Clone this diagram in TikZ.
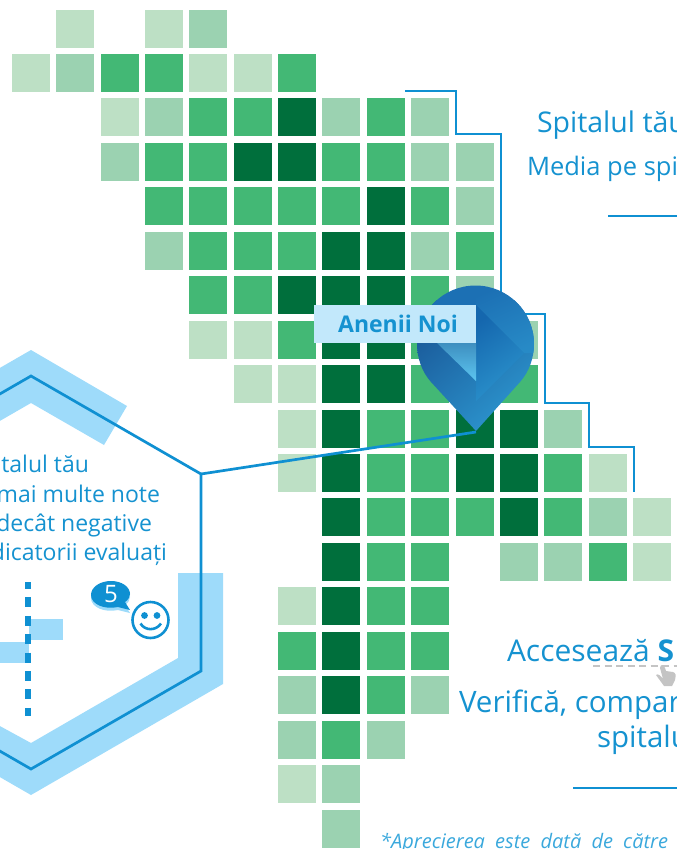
\documentclass[tikz,border=0pt]{standalone}
\usepackage{fontspec}
\setmainfont{Open Sans}
\definecolor{cL}{HTML}{BDE0C5}
\definecolor{cM}{HTML}{9BD2B1}
\definecolor{cG}{HTML}{43B875}
\definecolor{cD}{HTML}{006F3C}
\definecolor{line}{HTML}{0F90D2}
\definecolor{txt}{HTML}{1592D0}
\definecolor{band}{HTML}{9EDBFA}
\definecolor{lab}{HTML}{C2E8FB}
\definecolor{pinA}{HTML}{1A5A9A}
\definecolor{pinB}{HTML}{2C95CE}
\definecolor{pinC}{HTML}{1567AE}
\definecolor{pinD}{HTML}{3E8FC0}
\definecolor{pinE}{HTML}{5CC5F0}
\definecolor{pinF}{HTML}{1C70B4}
\definecolor{handgray}{HTML}{C4C4C4}
\definecolor{notecolor}{HTML}{3AA8DC}
\tikzset{
  blueline/.style={draw=line,line width=2.7pt,line join=miter},
  cell/.style={minimum size=38pt,inner sep=0pt,outer sep=0pt,anchor=north west},
  caption/.style={text=txt,inner sep=0pt,outer sep=0pt,anchor=base west},
  captionr/.style={text=txt,inner sep=0pt,outer sep=0pt,anchor=base east},
}
\newcommand{\cellrow}[2]{%
  \foreach \c/\k in {#2}{%
    \node[cell,fill=\k] (r#1c\c) at ({12+44.35*\c},{9.5+44.45*#1}) {};%
  }%
}
\begin{document}
\begin{tikzpicture}[x=1pt,y=-1pt]
\useasboundingbox (0,0) rectangle (677,849);
\clip (0,0) rectangle (677,849);
% map cells
\cellrow{0}{1/cL,3/cL,4/cM}
\cellrow{1}{0/cL,1/cM,2/cG,3/cG,4/cL,5/cL,6/cG}
\cellrow{2}{2/cL,3/cM,4/cG,5/cG,6/cD,7/cM,8/cG,9/cM}
\cellrow{3}{2/cM,3/cG,4/cG,5/cD,6/cD,7/cG,8/cG,9/cM,10/cM}
\cellrow{4}{3/cG,4/cG,5/cG,6/cG,7/cG,8/cD,9/cG,10/cM}
\cellrow{5}{3/cM,4/cG,5/cG,6/cG,7/cD,8/cD,9/cM,10/cG}
\cellrow{6}{4/cG,5/cG,6/cD,7/cD,8/cD,9/cG,10/cM}
\cellrow{7}{4/cL,5/cL,6/cG,7/cD,8/cD,9/cG,10/cG,11/cM}
\cellrow{8}{5/cL,6/cL,7/cD,8/cD,9/cG,10/cG,11/cG}
\cellrow{9}{6/cL,7/cD,8/cG,9/cG,10/cD,11/cD,12/cM}
\cellrow{10}{6/cL,7/cD,8/cG,9/cG,10/cD,11/cD,12/cG,13/cL}
\cellrow{11}{7/cD,8/cG,9/cG,10/cG,11/cD,12/cG,13/cM,14/cL}
\cellrow{12}{7/cD,8/cG,9/cG,11/cM,12/cM,13/cG,14/cL}
\cellrow{13}{6/cL,7/cD,8/cG,9/cG}
\cellrow{14}{6/cG,7/cD,8/cG,9/cG}
\cellrow{15}{6/cM,7/cD,8/cG,9/cM}
\cellrow{16}{6/cM,7/cG,8/cM}
\cellrow{17}{6/cL,7/cM}
\cellrow{18}{7/cM}
% border of the region
\draw[blueline] (405,91) -- (456,91) -- (456,134) -- (501,134) -- (501,314) -- (545,314) -- (545,403) -- (589,403) -- (589,447) -- (634,447) -- (634,492);
% hexagon band
\fill[band] (127,406) -- (31,350) -- (-2,369) -- (-2,422) -- (31,403) -- (104,445) -- cycle;
\fill[band] (178,573) -- (223,573) -- (223,684) -- (31,795) -- (-2,776) -- (-2,725) -- (31,743) -- (178,658) -- cycle;
\fill[band] (29,619) rectangle (63,640);
\fill[band] (-2,642) rectangle (29,663);
\draw[draw=line,line width=5.5pt,dash pattern=on 10pt off 8.4pt,dash phase=3pt] (28,582) -- (28,716);
% hexagon outline and connector
\coordinate (hexcorner) at (201,474);
\coordinate (pintip) at (476,432);
\draw[blueline] (-2,395) -- (31,376) -- (hexcorner) -- (201,671) -- (31,769) -- (-2,750);
\draw[blueline] (hexcorner) -- (pintip);
% pin
\begin{scope}
\clip (476,431) -- (431,382) .. controls (422,372) and (417,358) .. (417,344)
  .. controls (417,311.7) and (443.2,285.5) .. (475.5,285.5)
  .. controls (507.8,285.5) and (534,311.7) .. (534,344)
  .. controls (534,358) and (529,372) .. (520,382) -- cycle;
\shade[top color=pinA,bottom color=pinB,shading angle=40] (417,300) rectangle (534,431);
\shade[top color=pinF,bottom color=pinB!70!pinF,shading angle=25] (476,284) -- (540,284) -- (540,353) -- (524,353) -- (476,305) -- cycle;
\fill[pinF] (417,284) rectangle (476,306);
\shade[top color=pinC,bottom color=pinB!95!pinC,shading angle=35] (476,305) -- (524,353) -- (476,401) -- cycle;
\shade[top color=pinD,bottom color=pinE] (476,343) -- (476,381) -- (437,343) -- cycle;
\end{scope}
% place label
\node[fill=lab,minimum width=162pt,minimum height=38pt,inner sep=0pt,outer sep=0pt,anchor=north west] (labelbox) at (314,305) {};
\node[text=txt,font=\fontsize{23}{24}\selectfont\bfseries,inner sep=0pt] (placename) at (398,324) {Anenii Noi};
% right texts
\node[caption,font=\fontsize{28.5}{32}\selectfont] (t1) at (537,132) {Spitalul tău};
\node[caption,font=\fontsize{25.5}{30}\selectfont] (t2) at (527,175) {Media pe spi};
\draw[blueline] (608,216) -- (680,216);
\node[caption,font=\fontsize{30}{32}\selectfont] (t3) at (507,661) {Accesează \textbf{S}};
\draw[draw=handgray,line width=1.8pt,dash pattern=on 7pt off 4.5pt] (593,666) -- (680,666);
\fill[handgray] (656,675) .. controls (658,673) and (661,676) .. (663,679) -- (660,668) .. controls (660,664) and (664,664) .. (665,668) -- (666,671) -- (673,672) .. controls (676,673) and (676,675) .. (675,680) -- (672,686) -- (664,686) -- cycle;
\node[caption,font=\fontsize{29.5}{32}\selectfont] (t4) at (459,712) {Verifică, compar};
\node[caption,font=\fontsize{29.5}{32}\selectfont] (t5) at (597,747) {spitalu};
\draw[blueline] (573,788) -- (680,788);
\node[anchor=base west,inner sep=0pt,text=notecolor,font=\fontsize{20}{22}\selectfont\itshape] (t6) at (380,848.5) {*Aprecierea\hspace{5pt} este\hspace{5pt} dată\hspace{5pt} de\hspace{5pt} către};
% left texts
\node[captionr,font=\fontsize{23}{26}\selectfont] (l1) at (89,472) {italul tău};
\node[captionr,font=\fontsize{23}{26}\selectfont] (l2) at (160,502) {mai multe note};
\node[captionr,font=\fontsize{23}{26}\selectfont] (l3) at (152,531) {decât negative};
\node[captionr,font=\fontsize{23}{26}\selectfont] (l4) at (167,560) {dicatorii evaluați};
% speech bubble and smiley
\fill[band] (91,598) .. controls (91,590) and (100,584) .. (111,584) .. controls (122,584) and (130,590) .. (130,597) .. controls (130,600) and (128,603) .. (125,605) -- (130,613) -- (118,610) .. controls (104,613) and (91,607) .. (91,598) -- cycle;
\fill[line] (91,595) .. controls (91,587) and (100,581) .. (111,581) .. controls (122,581) and (130,587) .. (130,594) .. controls (130,597) and (128,600) .. (125,602) -- (130,610) -- (118,607) .. controls (104,610) and (91,604) .. (91,595) -- cycle;
\node[text=white,font=\fontsize{24}{24}\selectfont,inner sep=0pt] (five) at (111,594) {5};
\node[draw=line,line width=2.6pt,circle,minimum size=36pt,inner sep=0pt] (smile) at (150.5,620) {};
\fill[line] (144.5,615.5) circle (3.4);
\fill[line] (157,615.5) circle (3.4);
\draw[line,line width=2.6pt] (140.5,623.5) .. controls (145,631) and (156,631) .. (161,623.5);
\end{tikzpicture}
\end{document}
